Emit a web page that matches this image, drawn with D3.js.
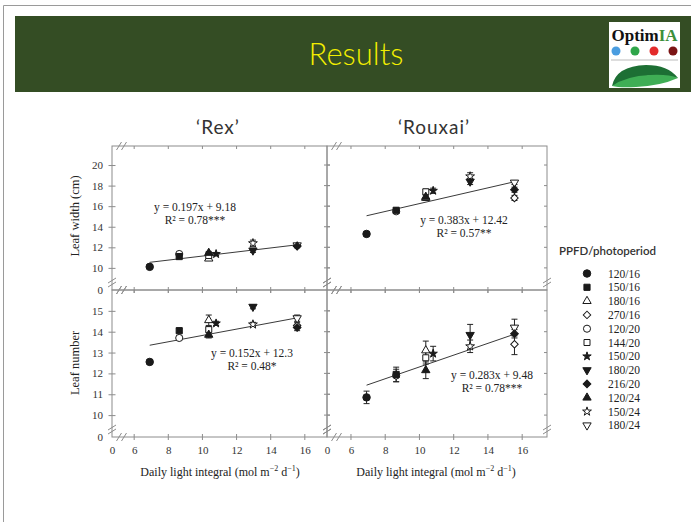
<!DOCTYPE html>
<html>
<head>
<meta charset="utf-8">
<script src="https://cdn.jsdelivr.net/npm/d3@7"></script>
<style>
  html, body { margin: 0; padding: 0; background: #fff; }
  svg { display: block; }
  .tick text { font-family: "Liberation Serif", serif; font-size: 11px; fill: #333; }
</style>
</head>
<body>
<div id="chart"></div>
<script>
// Leaf width / leaf number vs daily light integral, two lettuce cultivars

const treatments = ['120/16', '150/16', '180/16', '270/16', '120/20', '144/20',
                    '150/20', '180/20', '216/20', '120/24', '150/24', '180/24'];
const dli = [6.91, 8.64, 10.37, 15.55, 8.64, 10.37, 10.8, 12.96, 15.55, 10.37, 12.96, 15.55];

const widthRex     = [10.1, 11.1, 10.9, 12.15, 11.35, 11.2, 11.35, 11.7, 12.1, 11.45, 12.4, 12.2];
const widthRouxai  = [13.3, 15.6, 16.8, 16.8, 15.5, 17.4, 17.5, 18.4, 17.6, 16.9, 18.9, 18.3];
const numberRex    = [12.55, 14.05, 14.55, 14.3, 13.7, 14.1, 14.4, 15.2, 14.2, 13.85, 14.35, 14.65];
const numberRouxai = [10.85, 11.95, 13.1, 13.4, 11.9, 12.75, 12.95, 13.85, 13.9, 12.15, 13.3, 14.2];

const errWidthRex     = [0.15, 0.15, 0.15, 0.15, 0.15, 0.15, 0.15, 0.2, 0.15, 0.15, 0.3, 0.15];
const errWidthRouxai  = [0.2, 0.2, 0.25, 0.25, 0.2, 0.25, 0.25, 0.3, 0.25, 0.25, 0.35, 0.2];
const errNumberRex    = [0.1, 0.1, 0.25, 0.15, 0.1, 0.15, 0.1, 0.1, 0.15, 0.15, 0.1, 0.15];
const errNumberRouxai = [0.3, 0.35, 0.45, 0.5, 0.3, 0.3, 0.35, 0.5, 0.2, 0.4, 0.3, 0.4];

const slopes = [0.197, 0.383, 0.152, 0.283];
const intercepts = [9.18, 12.42, 12.3, 9.48];
const equations = ['y = 0.197x + 9.18', 'y = 0.383x + 12.42', 'y = 0.152x + 12.3', 'y = 0.283x + 9.48'];
const r2Labels = ['R² = 0.78***', 'R² = 0.57**', 'R² = 0.48*', 'R² = 0.78***'];

const cultivars = ['‘Rex’', '‘Rouxai’'];
const xTicks = [0, 6, 8, 10, 12, 14, 16];
const widthTicks = [0, 10, 12, 14, 16, 18, 20];
const numberTicks = [0, 10, 11, 12, 13, 14, 15];

const W = 691, H = 522;
const svg = d3.select('#chart').append('svg').attr('width', W).attr('height', H);

// slide frame + banner
svg.append('path').attr('d', `M3.5,${H} V5.5 H${W}`).attr('fill', 'none').attr('stroke', '#9a9a9a');
svg.append('rect').attr('x', 15).attr('y', 16).attr('width', W - 15).attr('height', 76).attr('fill', '#344d24');
svg.append('text').attr('x', 356).attr('y', 65).attr('text-anchor', 'middle')
    .attr('font-family', 'Lato, "Open Sans", sans-serif').attr('font-weight', 300)
    .attr('font-size', 31).attr('fill', '#f2ee00').text('Results');

// logo
const logo = svg.append('g');
logo.append('rect').attr('x', 609).attr('y', 22).attr('width', 71).attr('height', 66).attr('fill', '#fff');
const lt = logo.append('text').attr('x', 644.5).attr('y', 41).attr('text-anchor', 'middle')
    .attr('font-family', '"Liberation Serif", serif').attr('font-weight', 'bold').attr('font-size', 17)
    .attr('textLength', 66).attr('lengthAdjust', 'spacingAndGlyphs');
lt.append('tspan').attr('fill', '#111').text('Optim');
lt.append('tspan').attr('fill', '#3d8f3a').text('IA');
['#4a9de0', '#2fa64a', '#e32b2b', '#7b1414'].forEach((c, i) => {
  logo.append('circle').attr('cx', 616 + i * 19).attr('cy', 51).attr('r', 4.5).attr('fill', c);
});
logo.append('line').attr('x1', 611).attr('x2', 678).attr('y1', 60).attr('y2', 60).attr('stroke', '#bbb');
logo.append('path').attr('d', 'M612,86 Q616,66 646,65 Q668,65 678,78 Q650,72 628,80 Q618,84 612,86 Z').attr('fill', '#1d6f34');
logo.append('path').attr('d', 'M612,86 Q626,76 650,75 Q668,74 678,78 Q660,86 636,87 Q620,88 612,86 Z').attr('fill', '#3fae55');

// scales (0 sits at the origin, axis broken above it)
const xL = d3.scaleLinear().domain([0, 4.7, 17.3]).range([112, 112, 327]);
const xR = d3.scaleLinear().domain([0, 4.6, 17.45]).range([327, 327, 547]);
const yTop = d3.scaleLinear().domain([0, 7.85, 21.85]).range([290, 290, 146]);
const yBot = d3.scaleLinear().domain([0, 8.95, 16]).range([437, 437, 290]);

const panels = [
  { x: xL, y: yTop, vals: widthRex, err: errWidthRex, i: 0, eq: [195, 207] },
  { x: xR, y: yTop, vals: widthRouxai, err: errWidthRouxai, i: 1, eq: [464, 220] },
  { x: xL, y: yBot, vals: numberRex, err: errNumberRex, i: 2, eq: [252, 353] },
  { x: xR, y: yBot, vals: numberRouxai, err: errNumberRouxai, i: 3, eq: [492, 375] }
];

const frameColor = '#8c8c8c';
const ink = '#1a1a1a';
const shapes = [d3.symbolCircle, d3.symbolSquare, d3.symbolTriangle, d3.symbolSquare, d3.symbolCircle, d3.symbolSquare,
                d3.symbolStar, d3.symbolTriangle, d3.symbolSquare, d3.symbolTriangle, d3.symbolStar, d3.symbolTriangle];
const filled = [true, true, false, false, false, false, true, true, true, true, false, false];
const rotation = [0, 0, 0, 45, 0, 0, 0, 180, 45, 0, 0, 180];
const sizes = [44, 38, 30, 28, 40, 36, 22, 30, 30, 30, 24, 30];
const sym = d => d3.symbol().type(shapes[d]).size(sizes[d])();
// open markers first so filled ones sit on top, as in the figure
const drawOrder = d3.range(treatments.length).sort((a, b) => filled[a] - filled[b] || a - b);

function breakH(g, x, y) {
  [0, 5].forEach(dx => g.append('line')
    .attr('x1', x + dx - 2.5).attr('y1', y + 4).attr('x2', x + dx + 2.5).attr('y2', y - 4)
    .attr('stroke', frameColor));
}
function breakV(g, x, y) {
  [0, 4].forEach(dy => g.append('line')
    .attr('x1', x - 4).attr('y1', y + dy + 2).attr('x2', x + 4).attr('y2', y + dy - 3)
    .attr('stroke', frameColor));
}

panels.forEach(p => {
  const g = svg.append('g');
  const [x0, x1] = [p.x.range()[0], p.x.range()[2]];
  const [y0, y1] = [p.y.range()[0], p.y.range()[2]];
  const yTicks = p.y === yTop ? widthTicks : numberTicks;

  g.append('rect').attr('x', x0).attr('y', y1).attr('width', x1 - x0).attr('height', y0 - y1)
      .attr('fill', 'none').attr('stroke', frameColor);

  // frame ticks
  const ticksX = xTicks.filter(t => t > 0);
  const ticksY = yTicks.filter(t => t > 0);
  ticksX.forEach(t => {
    g.append('line').attr('x1', p.x(t)).attr('x2', p.x(t)).attr('y1', y1).attr('y2', y1 + 3).attr('stroke', frameColor);
    g.append('line').attr('x1', p.x(t)).attr('x2', p.x(t)).attr('y1', y0 - 3).attr('y2', y0 + 3).attr('stroke', frameColor);
  });
  ticksY.forEach(t => {
    g.append('line').attr('x1', x1 - 3).attr('x2', x1 + (p.x === xL ? 3 : 0)).attr('y1', p.y(t)).attr('y2', p.y(t)).attr('stroke', frameColor);
  });

  // left axis of the left panels
  if (p.x === xL) {
    const ax = g.append('g').attr('transform', `translate(${x0},0)`)
        .call(d3.axisLeft(p.y).tickValues(yTicks).tickSize(0).tickPadding(9));
    ax.select('.domain').remove();
    ax.selectAll('.tick').append('line').attr('x1', -3.5).attr('x2', 3.5)
        .attr('stroke', d => d === 0 ? 'none' : frameColor);
    breakV(g, x0, y0 - 9);
  } else {
    ticksY.forEach(t => g.append('line').attr('x1', x0).attr('x2', x0 + 3).attr('y1', p.y(t)).attr('y2', p.y(t)).attr('stroke', frameColor));
    breakV(g, x1, y0 - 9);
  }
  breakV(g, p.x === xL ? x1 : x0, y0 - 9);
  breakH(g, x0 + 7, y1);
  breakH(g, x0 + 7, y0);

  // bottom axis
  if (p.y === yBot) {
    const ax = g.append('g').attr('transform', `translate(0,${y0})`)
        .call(d3.axisBottom(p.x).tickValues(xTicks).tickSize(0).tickPadding(9));
    ax.select('.domain').remove();
  }

  // regression line
  const xr = [d3.min(dli), d3.max(dli)];
  g.append('line')
      .attr('x1', p.x(xr[0])).attr('y1', p.y(slopes[p.i] * xr[0] + intercepts[p.i]))
      .attr('x2', p.x(xr[1])).attr('y2', p.y(slopes[p.i] * xr[1] + intercepts[p.i]))
      .attr('stroke', '#3a3a3a').attr('stroke-width', 1);

  // error bars
  const eb = g.append('g').attr('stroke', '#222').attr('stroke-width', 1);
  drawOrder.forEach(d => {
    const cx = p.x(dli[d]), lo = p.y(p.vals[d] - p.err[d]), hi = p.y(p.vals[d] + p.err[d]);
    eb.append('line').attr('x1', cx).attr('x2', cx).attr('y1', lo).attr('y2', hi);
    eb.append('line').attr('x1', cx - 3).attr('x2', cx + 3).attr('y1', lo).attr('y2', lo);
    eb.append('line').attr('x1', cx - 3).attr('x2', cx + 3).attr('y1', hi).attr('y2', hi);
  });

  g.append('g').selectAll('path').data(drawOrder).join('path')
      .attr('d', sym)
      .attr('transform', d => `translate(${p.x(dli[d])},${p.y(p.vals[d])}) rotate(${rotation[d]})`)
      .attr('fill', d => filled[d] ? ink : '#fff')
      .attr('stroke', ink).attr('stroke-width', 1);

  const eqText = g.append('g').attr('font-family', '"Liberation Serif", serif').attr('font-size', 11.5)
      .attr('fill', '#222').attr('text-anchor', 'middle');
  eqText.append('text').attr('x', p.eq[0]).attr('y', p.eq[1] + 4).text(equations[p.i]);
  eqText.append('text').attr('x', p.eq[0]).attr('y', p.eq[1] + 17).text(r2Labels[p.i]);
});

// cultivar titles
cultivars.forEach((c, i) => {
  svg.append('text').attr('x', i === 0 ? 218 : 434).attr('y', 134).attr('text-anchor', 'middle')
      .attr('font-family', 'Lato, "Open Sans", sans-serif').attr('font-size', 19).attr('fill', '#333')
      .attr('letter-spacing', 1).text(c);
});

// axis titles
const serif = '"Liberation Serif", serif';
[220, 436].forEach(cx => {
  const t = svg.append('text').attr('x', cx).attr('y', 476).attr('text-anchor', 'middle')
      .attr('font-family', serif).attr('font-size', 12).attr('fill', '#222');
  t.append('tspan').text('Daily light integral (mol m');
  t.append('tspan').attr('dy', -5).attr('font-size', 8).text('−2');
  t.append('tspan').attr('dy', 5).text(' d');
  t.append('tspan').attr('dy', -5).attr('font-size', 8).text('−1');
  t.append('tspan').attr('dy', 5).text(')');
});
[['Leaf width (cm)', 216], ['Leaf number', 363]].forEach(([s, cy]) => {
  svg.append('text').attr('transform', `translate(79,${cy}) rotate(-90)`).attr('text-anchor', 'middle')
      .attr('font-family', serif).attr('font-size', 12.5).attr('fill', '#222').text(s);
});

// legend
svg.append('text').attr('x', 559).attr('y', 255).attr('font-family', 'Lato, "Open Sans", sans-serif')
    .attr('font-size', 11.5).attr('font-weight', 600).attr('fill', '#333').text('PPFD/photoperiod');
const leg = svg.append('g').selectAll('g').data(d3.range(treatments.length)).join('g')
    .attr('transform', d => `translate(587,${273.5 + d * 13.8})`);
leg.append('path').attr('d', sym)
    .attr('transform', d => `rotate(${rotation[d]})`)
    .attr('fill', d => filled[d] ? ink : '#fff')
    .attr('stroke', ink).attr('stroke-width', 1);
leg.append('text').attr('x', 21).attr('y', 4).attr('font-family', serif).attr('font-size', 11.5)
    .attr('fill', '#222').text(d => treatments[d]);
</script>
</body>
</html>
